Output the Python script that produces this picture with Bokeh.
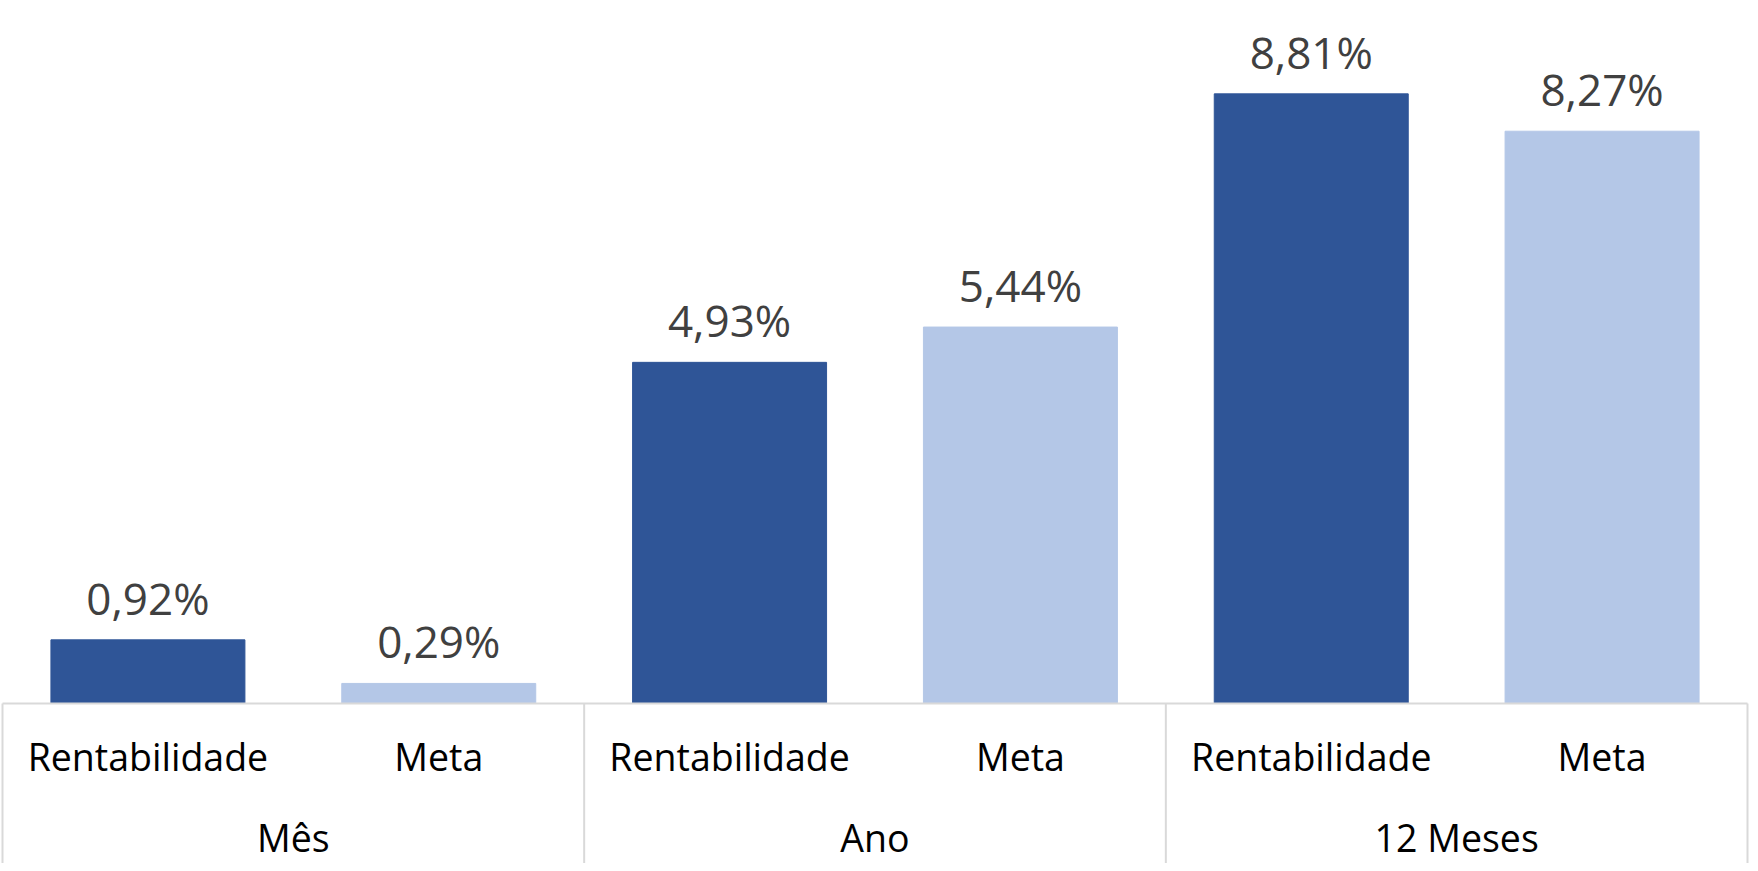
from bokeh.plotting import figure
from bokeh.models import Range1d, ColumnDataSource
from bokeh.core.properties import value
from bokeh.embed import file_html
from bokeh.resources import INLINE

# ---- data ----
groups = ["Mês", "Ano", "12 Meses"]
series = ["Rentabilidade", "Meta"]
values = [0.92, 0.29, 4.93, 5.44, 8.81, 8.27]
value_labels = ["0,92%", "0,29%", "4,93%", "5,44%", "8,81%", "8,27%"]
colors_by_series = {"Rentabilidade": "#2F5597", "Meta": "#B4C7E7"}

# ---- derived ----
n = len(values)
xs = [i + 0.5 for i in range(n)]
sub_labels = [series[i % 2] for i in range(n)]
bar_colors = [colors_by_series[s] for s in sub_labels]
group_x = [2 * g + 1.0 for g in range(len(groups))]
bounds = [2.0 * g for g in range(len(groups) + 1)]

W, H = 1750, 863
px_per_unit_x = 1745.0 / n
px_per_pct = 69.2
x_start = -2.0 / px_per_unit_x
y_top = 703 / px_per_pct
y_bot = -(H - 703) / px_per_pct

p = figure(width=W, height=H, output_backend="svg", toolbar_location=None,
           x_range=Range1d(x_start, x_start + W / px_per_unit_x),
           y_range=Range1d(y_bot, y_top),
           min_border=0, outline_line_color=None,
           x_axis_location=None, y_axis_location=None,
           background_fill_color="white", border_fill_color="white")
p.grid.visible = False

src = ColumnDataSource(dict(x=xs, top=values, color=bar_colors, lab=value_labels,
                            sub=sub_labels, zero=[0] * n))
p.vbar(x="x", top="top", bottom=0, width=0.667, color="color", source=src)

# axis line and separators
p.segment(x0=[bounds[0]], y0=[0], x1=[bounds[-1]], y1=[0], line_color="#D9D9D9", line_width=2)
p.segment(x0=bounds, y0=[0] * len(bounds), x1=bounds, y1=[y_bot - 1] * len(bounds),
          line_color="#D9D9D9", line_width=2)

# data labels
p.text(x="x", y="top", text="lab", source=src, text_align="center",
       text_baseline="alphabetic", y_offset=-42, text_color="#404040",
       text_font=value("Open Sans"), text_font_size="44px")

# sub-category labels
p.text(x="x", y="zero", text="sub", source=src, text_align="center",
       text_baseline="alphabetic", y_offset=53, text_color="#000000",
       text_font=value("Open Sans"), text_font_size="37.5px")

# group labels
p.text(x=group_x, y=[0] * len(groups), text=groups, text_align="center",
       text_baseline="alphabetic", y_offset=134, text_color="#000000",
       text_font=value("Open Sans"), text_font_size="37.5px")

open("out.html", "w").write(file_html(p, INLINE))
